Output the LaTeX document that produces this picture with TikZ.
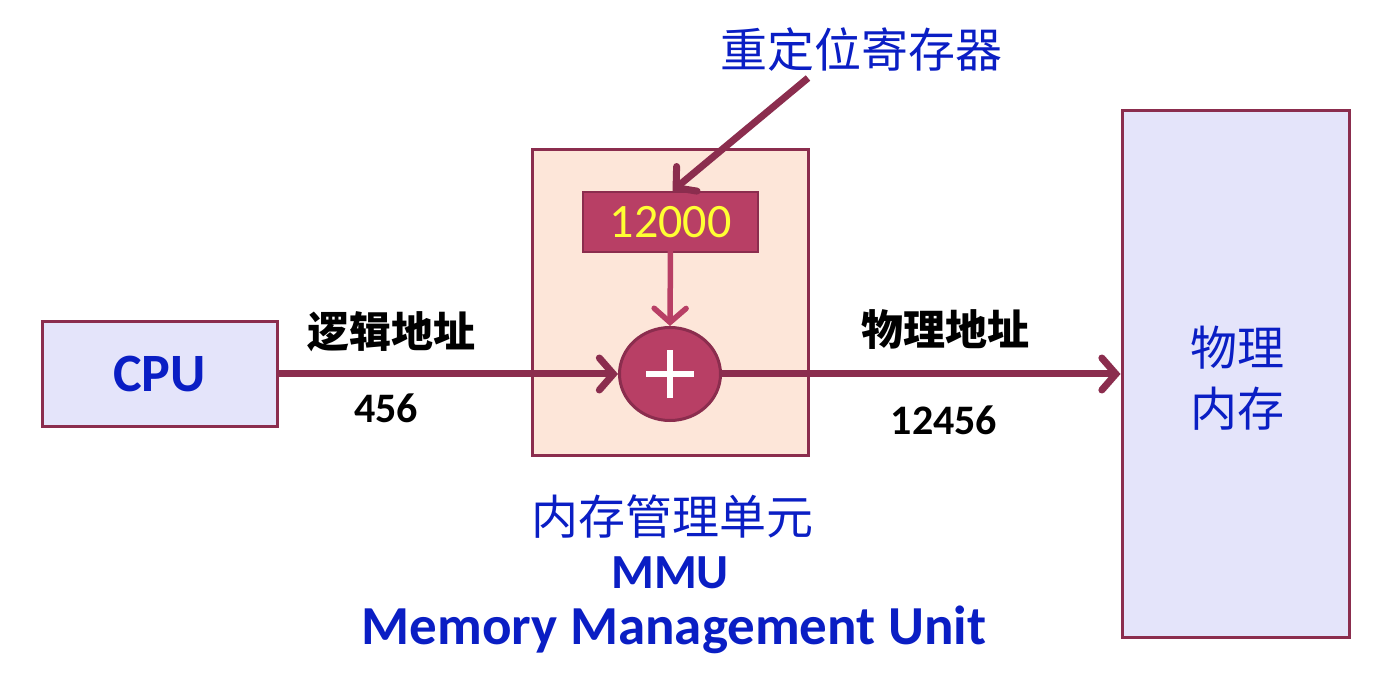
\documentclass[tikz,border=0pt]{standalone}
\usepackage{fontspec}
\setmainfont{Carlito}
\newfontfamily\cjk{Noto Sans CJK SC}
\usetikzlibrary{arrows.meta,shapes.geometric}
\definecolor{maroonc}{HTML}{8B2D4E}
\definecolor{rosec}{HTML}{B83F65}
\definecolor{lavc}{HTML}{E4E4FA}
\definecolor{peachc}{HTML}{FDE6D9}
\definecolor{bluec}{HTML}{0A1EC4}
\definecolor{yellowc}{HTML}{FFFF33}
\tikzset{
  box/.style={draw=maroonc, line width=3pt, inner sep=0pt},
  conn/.style={draw=maroonc, line width=7pt, -{Straight Barb[length=14pt,width=32pt,line cap=round]}},
  cjklbl/.style={font=\cjk\fontsize{42}{48}\selectfont\bfseries, text=black, inner sep=0pt},
  bluecjk/.style={font=\cjk\fontsize{47}{61}\selectfont, text=bluec, inner sep=0pt},
  numlbl/.style={font=\fontsize{42}{48}\selectfont\bfseries, text=black, inner sep=0pt},
  bluelat/.style={font=\fontsize{55}{60}\selectfont\bfseries, text=bluec, inner sep=0pt},
}
\begin{document}
\begin{tikzpicture}[x=1pt,y=-1pt]
\useasboundingbox (0,0) rectangle (1400,684);
% boxes
\node[box, fill=lavc, minimum width=235, minimum height=104] (cpu) at (159.5,374) {};
\node[font=\fontsize{54}{60}\selectfont\bfseries, text=bluec] at (cpu.center) {CPU};
\node[box, fill=peachc, minimum width=276, minimum height=305] (mmu) at (670,302.5) {};
\node[box, fill=lavc, minimum width=227, minimum height=526] (mem) at (1235.5,374) {};
\node[bluecjk, align=center] (memtxt) at (1237,378) {物理\\内存};
% register
\node[draw=maroonc, line width=2.5pt, fill=rosec, minimum width=175, minimum height=60, inner sep=0pt,
      font=\fontsize{48}{56}\selectfont, text=yellowc] (reg) at (670.5,222) {12000};
% adder
\node[draw=maroonc, line width=3pt, fill=rosec, ellipse, minimum width=101, minimum height=93, inner sep=0pt] (plus) at (670,374) {};
\draw[white, line width=6.5pt] ([xshift=-24pt]plus.center) -- ([xshift=24pt]plus.center);
\draw[white, line width=6.5pt] ([yshift=-24pt]plus.center) -- ([yshift=24pt]plus.center);
% labels
\node[bluecjk] (title) at (861,50) {重定位寄存器};
\coordinate (tstart) at (808,78);
\node[cjklbl] (lbl1) at (391,332) {逻辑地址};
\node[numlbl] (num1) at (386,408) {456};
\node[cjklbl] (lbl2) at (945,330) {物理地址};
\node[numlbl] (num2) at (944,420) {12456};
\node[bluecjk] (mmucn) at (672,517) {内存管理单元};
\node[bluelat, font=\fontsize{49}{56}\selectfont\bfseries] (mmuab) at (670,573) {MMU};
\node[bluelat] (mmuen) at (674,630) {Memory Management Unit};
% connectors
\draw[conn] (tstart) -- ([xshift=2pt]reg.north);
\draw[conn, draw=rosec, line width=5.5pt] ([yshift=5pt]reg.south) -- (plus.north);
\draw[conn] (cpu.east) -- (plus.west);
\draw[conn] (plus.east) -- (mem.west);
\end{tikzpicture}
\end{document}
